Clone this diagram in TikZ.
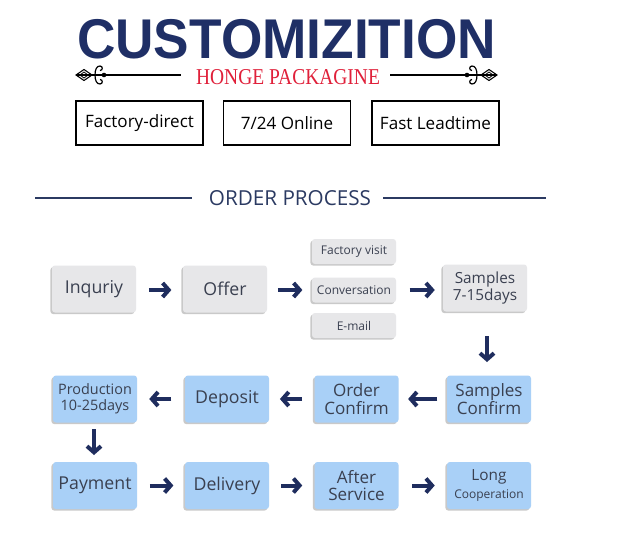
\documentclass[tikz,border=0pt]{standalone}
\usepackage{fontspec}
\setmainfont{Open Sans}
\newfontfamily\titlefont{Liberation Sans}
\newfontfamily\redfont{Liberation Serif}
\usetikzlibrary{arrows.meta,shadows,positioning}
\definecolor{navy}{HTML}{1F2F66}
\definecolor{arrownavy}{HTML}{1F2D5E}
\definecolor{ordernavy}{HTML}{2B3A62}
\definecolor{redtxt}{HTML}{E0203A}
\definecolor{grayfill}{HTML}{E7E7E9}
\definecolor{bluefill}{HTML}{A9D0F7}
\definecolor{boxtext}{HTML}{3A4050}
\tikzset{
  flowbox/.style={rounded corners=2.2pt, inner sep=0pt, align=center,
    text=boxtext, font=\fontsize{13.3pt}{15pt}\selectfont,
    drop shadow={shadow xshift=-1.2pt, shadow yshift=-1.2pt, opacity=0.35, fill=black!60}},
  graybox/.style={flowbox, fill=grayfill, minimum width=84*0.75pt, minimum height=47*0.75pt},
  bluebox/.style={flowbox, fill=bluefill, minimum width=84*0.75pt, minimum height=47*0.75pt},
  smallbox/.style={flowbox, fill=grayfill, minimum width=84*0.75pt, minimum height=25*0.75pt,
    font=\fontsize{9pt}{10pt}\selectfont},
  featbox/.style={draw=black, line width=1.1pt, inner sep=0pt,
    minimum width=127*0.75pt, minimum height=44*0.75pt,
    font=\fontsize{12.8pt}{14pt}\selectfont},
  flowarrow/.style={draw=arrownavy, line width=3pt,
    -{Straight Barb[length=4.6pt,width=10.5pt,line width=3pt]}},
  ornline/.style={draw=black, line width=0.8pt}
}
\begin{document}
\begin{tikzpicture}[x=0.75pt,y=-0.75pt]
\useasboundingbox (0,0) rectangle (626,536);
\fill[white] (0,0) rectangle (626,536);
% title
\node[text=navy, font=\titlefont\bfseries\fontsize{42pt}{44pt}\selectfont, xscale=0.95, inner sep=0pt, text depth=0pt, anchor=base] (title) at (286.5,58) {CUSTOMIZITION};
\node[text=redtxt, font=\redfont\fontsize{17pt}{18pt}\selectfont, xscale=0.86, inner sep=0pt, text height=12pt, text depth=0pt, anchor=base] (brand) at (288,84) {HONGE PACKAGINE};
% ornaments left
\coordinate (ll) at (104,75);
\coordinate (lr) at (181,75);
\draw[ornline] (ll) -- (lr);
\fill (ll) circle (2.3);
\draw[ornline] (76,75) -- (104,75);
\draw[black, line width=0.8pt] (76,75) -- (84,69.5) -- (92,75) -- (84,80.5) -- cycle;
\draw[black, line width=0.6pt] (80,75) -- (84,72) -- (88,75) -- (84,78) -- cycle;
\draw[black, line width=0.9pt] (95,75) .. controls (95,69) and (97,66) .. (100,66) .. controls (103,66) and (103,70.5) .. (100,70.5);
\draw[black, line width=0.9pt] (95,75) .. controls (95,81) and (97,84) .. (100,84) .. controls (103,84) and (103,79.5) .. (100,79.5);
% ornaments right
\coordinate (rl) at (390,75);
\coordinate (rr) at (467,75);
\draw[ornline] (rl) -- (rr);
\fill (rr) circle (2.3);
\draw[ornline] (467,75) -- (497,75);
\draw[black, line width=0.8pt] (481,75) -- (489,69.5) -- (497,75) -- (489,80.5) -- cycle;
\draw[black, line width=0.6pt] (485,75) -- (489,72) -- (493,75) -- (489,78) -- cycle;
\draw[black, line width=0.9pt] (477,75) .. controls (477,69) and (475,66) .. (472,66) .. controls (469,66) and (469,70.5) .. (472,70.5);
\draw[black, line width=0.9pt] (477,75) .. controls (477,81) and (475,84) .. (472,84) .. controls (469,84) and (469,79.5) .. (472,79.5);
% feature boxes
\node[featbox] (f1) at (139.5,123) {Factory-direct};
\node[featbox] (f2) at (287,123) {7/24 Online};
\node[featbox] (f3) at (435.5,123) {Fast Leadtime};
% order process header
\node[text=ordernavy, font=\fontsize{15.5pt}{17pt}\selectfont, inner sep=0pt] (op) at (290,198) {ORDER PROCESS};
\coordinate (opl1) at (35,198);
\coordinate (opl2) at (192,198);
\coordinate (opr1) at (383,198);
\coordinate (opr2) at (546,198);
\draw[ordernavy, line width=1pt] (opl1) -- (opl2);
\draw[ordernavy, line width=1pt] (opr1) -- (opr2);
% row 1
\node[graybox] (inq) at (94,289) {Inquriy};
\node[graybox] (offer) at (225,289) {Offer};
\node[smallbox] (fv) at (354,251.5) {Factory visit};
\node[smallbox] (conv) at (354,290) {Conversation};
\node[smallbox] (mail) at (354,325.5) {E-mail};
\node[graybox, font=\fontsize{11.5pt}{12.5pt}\selectfont] (samp) at (485,288) {Samples\\7-15days};
% row 2
\node[bluebox, font=\fontsize{10.8pt}{12pt}\selectfont] (prod) at (95,399) {Production\\10-25days};
\node[bluebox] (dep) at (227,399) {Deposit};
\node[bluebox, font=\fontsize{12.8pt}{13pt}\selectfont] (oc) at (356.5,399) {Order\\Confirm};
\node[bluebox, font=\fontsize{12.8pt}{13pt}\selectfont] (sc) at (489,399) {Samples\\Confirm};
% row 3
\node[bluebox] (pay) at (95,485.5) {Payment};
\node[bluebox] (del) at (227,485.5) {Delivery};
\node[bluebox, font=\fontsize{12.8pt}{13pt}\selectfont] (after) at (356.5,485.5) {After\\Service};
\node[bluebox] (long) at (489,485.5) {\fontsize{11.5pt}{12pt}\selectfont Long\\[-1pt]\fontsize{9pt}{10pt}\selectfont Cooperation};
% arrows
\draw[flowarrow] ([xshift=9.5pt]inq.east |- 0,290) -- ([xshift=-8.5pt]offer.west |- 0,290);
\draw[flowarrow] ([xshift=8pt]offer.east |- 0,290) -- ([xshift=-7pt]conv.west |- 0,290);
\draw[flowarrow] ([xshift=10pt]conv.east |- 0,290) -- ([xshift=-6pt]samp.west |- 0,290);
\draw[flowarrow] (487,336) -- (487,362);
\draw[flowarrow] ([xshift=-7pt]sc.west) -- ([xshift=7pt]oc.east);
\draw[flowarrow] ([xshift=-9pt]oc.west) -- ([xshift=8pt]dep.west -| dep.east);
\draw[flowarrow] ([xshift=-10pt]dep.west) -- ([xshift=9pt]prod.east);
\draw[flowarrow] (94,429) -- (94,455);
\draw[flowarrow] ([xshift=9.5pt]pay.east) -- ([xshift=-8.5pt]del.west);
\draw[flowarrow] ([xshift=9pt]del.east) -- ([xshift=-9pt]after.west);
\draw[flowarrow] ([xshift=10pt]after.east) -- ([xshift=-9pt]long.west);
\end{tikzpicture}
\end{document}
